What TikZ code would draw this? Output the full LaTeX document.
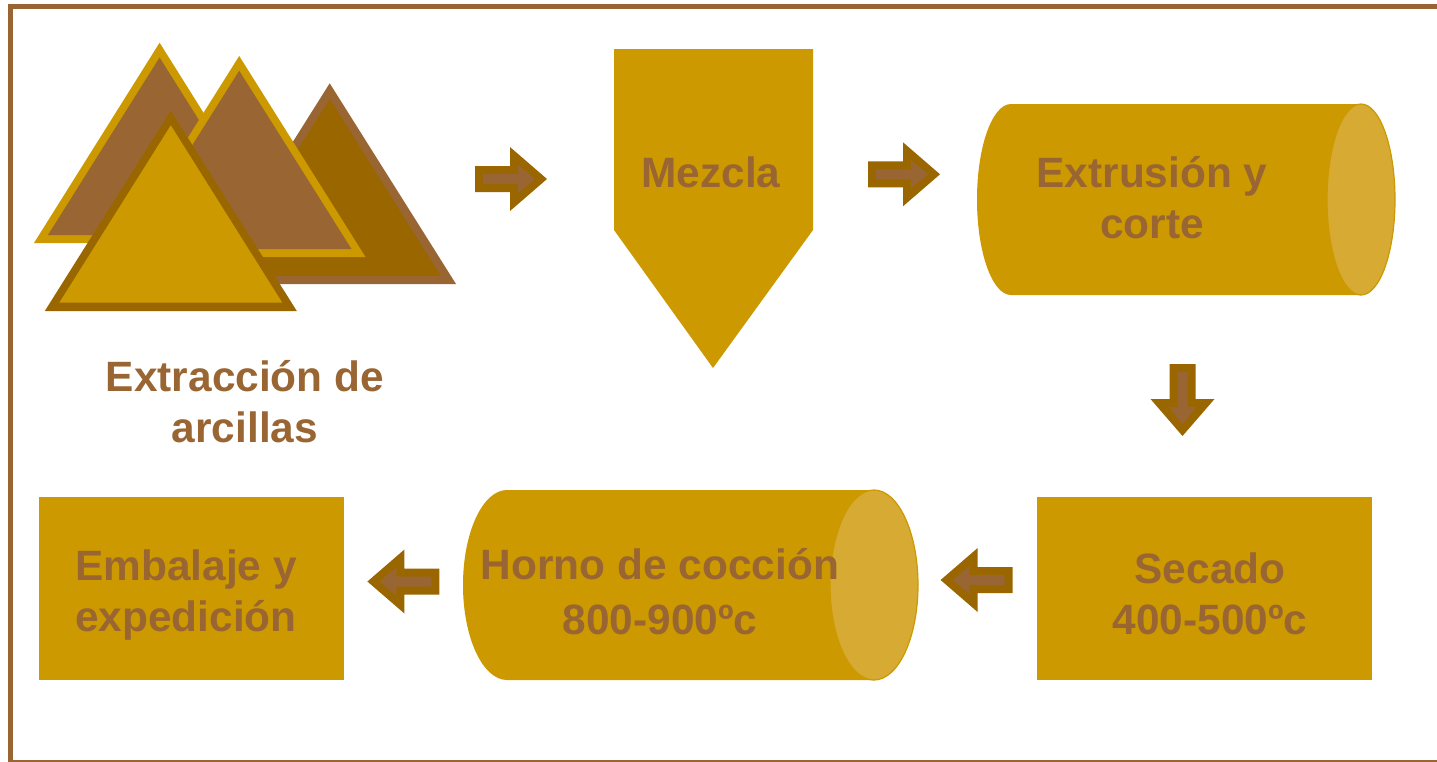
\documentclass[tikz,border=0pt]{standalone}
\usepackage{fontspec}
\setmainfont{Liberation Sans}
\definecolor{gold}{HTML}{CC9900}
\definecolor{brownish}{HTML}{996633}
\definecolor{darkgold}{HTML}{996600}
\definecolor{lightgold}{HTML}{D6AA33}
\tikzset{
  label text/.style={text=brownish,font=\bfseries\fontsize{42.4}{51}\selectfont,align=center,inner sep=0pt,anchor=center},
  body/.style={fill=gold,draw=none},
  cap face/.style={fill=lightgold,draw=gold,line width=1.2pt},
  frame line/.style={draw=brownish,line width=5pt}
}
% apex x, apex y, outer half, outer base, inner apex y, inner half, inner base, outer colour, inner colour
\newcommand{\peak}[9]{%
  \fill[#8] (#1,#2) -- (#1+#3,#4) -- (#1-#3,#4) -- cycle;
  \fill[#9] (#1,#5) -- (#1+#6,#7) -- (#1-#6,#7) -- cycle;
}
% tip x, tip y, rotation (0 = pointing right)
\newcommand{\flow}[3]{%
  \begin{scope}[shift={(#1,#2)},rotate=#3]
    \fill[darkgold] (0,0) -- (-37,-32) -- (-37,-13) -- (-72,-13) -- (-72,13) -- (-37,13) -- (-37,32) -- cycle;
    \fill[brownish] (-12,0) -- (-29,-14) -- (-29,-5) -- (-64,-5) -- (-64,5) -- (-29,5) -- (-29,14) -- cycle;
  \end{scope}
}
% left, right, top, bottom, rx
\newcommand{\barrel}[5]{%
  \fill[gold] (#1+#5,#3) -- (#2-#5,#3) -- (#2-#5,#4) -- (#1+#5,#4)
    arc[start angle=90,end angle=270,x radius=#5,y radius={(#4-#3)/2}] -- cycle;
  \path[cap face] (#2-#5,{(#3+#4)/2}) ellipse[x radius=#5,y radius={(#4-#3)/2}];
}
\begin{document}
\begin{tikzpicture}[x=1pt,y=-1pt]
\useasboundingbox (0,0) rectangle (1437,761);
\fill[white] (0,0) rectangle (1437,761);
\begin{scope}
\clip (0,0) rectangle (1437,761);
\draw[frame line] (10.5,6) rectangle (1500,762);
\end{scope}

\peak{329.7}{83.3}{126.3}{284}{98.7}{111.2}{276}{brownish}{darkgold}
\peak{159.6}{42.7}{125.6}{243}{57.5}{111.6}{235}{gold}{brownish}
\peak{239.2}{56}{126.3}{257}{70.7}{112.3}{249}{gold}{brownish}
\peak{170.8}{110.7}{126}{311}{125.3}{111.5}{302.7}{darkgold}{gold}

\flow{547}{179}{0}
\flow{940}{174.3}{0}
\flow{1182.5}{436}{-90}
\flow{940.6}{580}{180}
\flow{367.4}{581.5}{180}

\fill[body] (614,49) -- (813,49) -- (813,230) -- (713,368) -- (614,230) -- cycle;
\barrel{977}{1395}{104}{295}{34}
\barrel{463}{918}{490}{680}{44}
\fill[body] (1037,497) rectangle (1372,680);
\fill[body] (39,497) rectangle (344,680);

\node[label text] (extraccion) at (245,402) {Extracción de\\arcillas};
\node[label text] (mezcla) at (711,172) {Mezcla};
\node[label text] (extrusion) at (1152,198) {Extrusión y\\corte};
\node[label text] (secado) at (1210,593.5) {Secado\\400-500ºc};
\node[label text] (horno) at (660,592) {Horno de cocción\\[4pt]800-900ºc};
\node[label text] (embalaje) at (186,595) {Embalaje y\\expedición};
\end{tikzpicture}
\end{document}
